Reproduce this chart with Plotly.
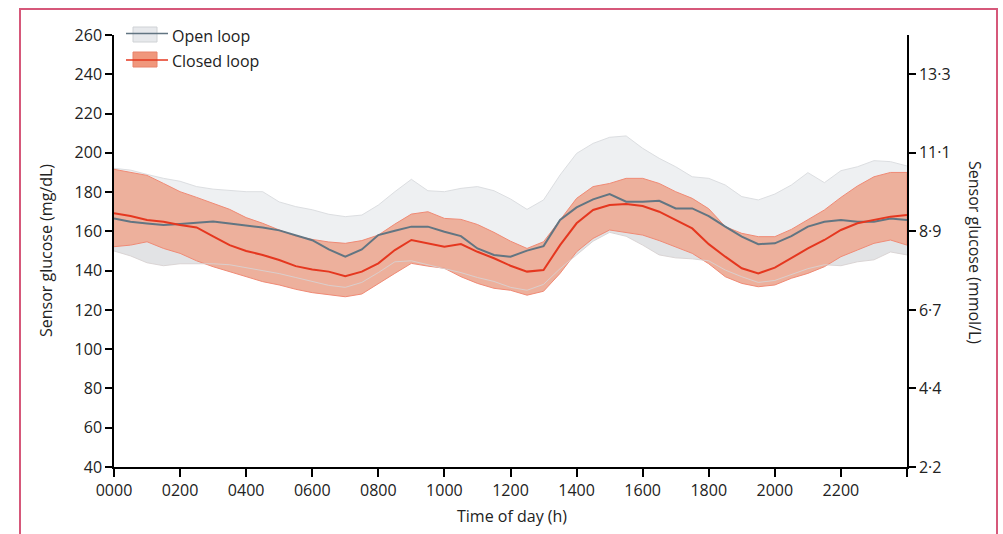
import plotly.graph_objects as go

# ---------------- data ----------------
hours = [0, 0.5, 1, 1.5, 2, 2.5, 3, 3.5, 4, 4.5, 5, 5.5, 6, 6.5, 7, 7.5, 8, 8.5, 9, 9.5,
         10, 10.5, 11, 11.5, 12, 12.5, 13, 13.5, 14, 14.5, 15, 15.5, 16, 16.5, 17, 17.5,
         18, 18.5, 19, 19.5, 20, 20.5, 21, 21.5, 22, 22.5, 23, 23.5, 24]

closed_median = [169.2, 167.8, 165.8, 164.9, 163.2, 162.0, 157.5, 153.0, 150.0, 148.0, 145.4, 142.3,
                 140.6, 139.5, 137.2, 139.5, 143.7, 150.5, 155.6, 153.9, 152.2, 153.5, 149.6, 146.3,
                 142.5, 139.5, 140.3, 153.0, 164.1, 170.9, 173.4, 173.9, 172.9, 170.0, 165.8, 161.5,
                 153.5, 147.1, 141.2, 138.6, 141.5, 146.5, 151.3, 155.6, 160.7, 164.1, 165.8, 167.5, 168.3]

closed_upper = [191.6, 189.9, 188.5, 184.4, 180.2, 177.3, 174.3, 171.2, 167.0, 164.1, 160.7, 157.6,
                155.9, 154.6, 153.9, 155.3, 158.1, 163.7, 168.8, 170.0, 166.6, 166.1, 163.5, 159.5,
                155.0, 151.3, 154.7, 165.8, 176.8, 182.8, 184.4, 187.0, 187.0, 184.4, 180.2, 176.8,
                171.5, 162.4, 159.0, 157.3, 157.3, 161.0, 166.1, 170.9, 177.3, 183.1, 187.8, 190.0, 190.0]

closed_lower = [152.2, 153.0, 154.7, 151.3, 148.8, 145.0, 142.0, 139.5, 136.9, 134.4, 132.7, 130.5,
                128.8, 127.6, 126.7, 128.1, 133.5, 138.6, 143.7, 142.3, 141.2, 136.9, 133.5, 131.0,
                130.0, 127.5, 129.5, 138.6, 149.6, 156.4, 160.7, 159.3, 158.1, 155.3, 152.2, 148.8,
                143.5, 136.9, 133.5, 131.8, 132.7, 136.1, 138.6, 142.0, 147.1, 150.5, 153.9, 155.6, 153.0]

open_median = [166.6, 164.9, 164.0, 163.2, 163.8, 164.5, 165.0, 164.0, 163.0, 162.0, 160.5, 158.0,
               155.5, 150.8, 147.1, 150.8, 158.1, 160.3, 162.4, 162.4, 159.8, 157.6, 151.3, 148.0,
               147.1, 150.2, 152.5, 165.8, 172.2, 176.3, 179.0, 175.1, 175.1, 175.6, 171.7, 171.7,
               167.8, 162.4, 157.3, 153.5, 153.9, 157.6, 162.4, 164.9, 165.8, 164.9, 164.9, 166.6, 165.8]

open_upper = [192.1, 191.2, 189.0, 187.0, 185.5, 182.8, 181.5, 181.0, 180.2, 180.2, 175.0, 172.6,
              171.0, 168.7, 167.5, 168.3, 173.4, 180.2, 186.5, 180.7, 180.2, 181.9, 182.8, 180.7,
              176.5, 171.2, 176.0, 188.7, 199.7, 204.8, 207.9, 208.6, 202.3, 197.2, 192.9, 187.8,
              187.0, 183.6, 177.7, 176.0, 179.0, 183.6, 189.9, 184.8, 190.9, 192.9, 196.0, 195.5, 193.3]

open_lower = [150.0, 147.5, 144.0, 142.5, 143.5, 143.5, 143.5, 143.0, 141.5, 140.0, 138.5, 136.5,
              134.5, 132.5, 131.5, 134.0, 139.0, 144.5, 145.0, 143.0, 141.0, 139.0, 136.5, 134.5,
              131.5, 130.0, 133.0, 141.0, 148.0, 155.0, 159.5, 157.5, 153.0, 148.0, 146.5, 146.0,
              145.0, 140.3, 136.9, 134.0, 135.0, 138.0, 141.0, 143.0, 142.5, 144.5, 145.5, 149.5, 148.0]

x_tickvals = [0, 2, 4, 6, 8, 10, 12, 14, 16, 18, 20, 22, 24]
x_ticktext = ["0000", "0200", "0400", "0600", "0800", "1000", "1200", "1400", "1600",
              "1800", "2000", "2200", ""]
mmol_tickvals = [40, 80, 120, 160, 200, 240]
mmol_ticktext = ["2·2", "4·4", "6·7", "8·9", "11·1", "13·3"]

# ---------------- styling ----------------
FONT = "Open Sans"
TXT = "#222222"
W, H = 1003, 534
L, R, T, B = 114, 96, 35, 67
PW, PH = W - L - R, H - T - B


def px_x(px):
    return (px - L) / PW


def px_y(py):
    return (H - B - py) / PH


def band(upper, lower):
    return hours + hours[::-1], upper + lower[::-1]


fig = go.Figure()

# open loop band: upper half (median->upper) and lower half (lower->median)
bx, by = band(open_upper, open_median)
fig.add_trace(go.Scatter(x=bx, y=by, fill="toself", fillcolor="#eef0f2", mode="lines",
                         line=dict(width=0), hoverinfo="skip", showlegend=False))
bx, by = band(open_median, open_lower)
fig.add_trace(go.Scatter(x=bx, y=by, fill="toself", fillcolor="#e2e3e5", mode="lines",
                         line=dict(width=0), hoverinfo="skip", showlegend=False))
fig.add_trace(go.Scatter(x=hours, y=open_upper, mode="lines",
                         line=dict(color="#dcdee1", width=1), hoverinfo="skip", showlegend=False))

# closed loop band
bx, by = band(closed_upper, closed_lower)
fig.add_trace(go.Scatter(x=bx, y=by, fill="toself", fillcolor="#edb09c", mode="lines",
                         line=dict(color="#f08a75", width=1), hoverinfo="skip", showlegend=False))

# open loop lower edge shows faintly through
fig.add_trace(go.Scatter(x=hours, y=open_lower, mode="lines",
                         line=dict(color="rgba(215,210,210,0.9)", width=1),
                         hoverinfo="skip", showlegend=False))

# medians (closed loop median on the right-hand axis, same scale, so that axis is drawn)
fig.add_trace(go.Scatter(x=hours, y=open_median, mode="lines", name="Open loop",
                         line=dict(color="#627582", width=2), showlegend=False))
fig.add_trace(go.Scatter(x=hours, y=closed_median, mode="lines", name="Closed loop",
                         yaxis="y2",
                         line=dict(color="#e5371f", width=2), showlegend=False))

axis_common = dict(showline=True, linecolor="black", linewidth=1.5, ticks="outside",
                   tickcolor="black", tickwidth=1.5, showgrid=False, zeroline=False,
                   tickfont=dict(family=FONT, size=16, color=TXT))

fig.update_layout(
    width=W, height=H,
    margin=dict(l=L, r=R, t=T, b=B),
    paper_bgcolor="white", plot_bgcolor="white",
    showlegend=False,
    xaxis=dict(range=[0, 24], tickvals=x_tickvals, ticktext=x_ticktext, ticklen=8,
               **axis_common),
    yaxis=dict(range=[40, 260], dtick=20, tick0=40, ticklen=7, **axis_common),
    yaxis2=dict(range=[40, 260], overlaying="y", side="right", anchor="x",
                tickvals=mmol_tickvals, ticktext=mmol_ticktext, ticklen=7, **axis_common),
)

annotations = [
    dict(text="Sensor glucose (mg/dL)", x=px_x(46), y=px_y(251), textangle=-90),
    dict(text="Sensor glucose (mmol/L)", x=px_x(975), y=px_y(252), textangle=90),
    dict(text="Time of day (h)", x=px_x(512), y=px_y(516)),
    dict(text="Open loop", x=px_x(170), y=px_y(36), xanchor="left"),
    dict(text="Closed loop", x=px_x(170), y=px_y(61), xanchor="left"),
]
for a in annotations:
    a.setdefault("xanchor", "center")
    fig.add_annotation(xref="paper", yref="paper", yanchor="middle", showarrow=False,
                       font=dict(family=FONT, size=16, color=TXT), **a)

shapes = [
    # legend: open loop
    dict(type="rect", x0=px_x(133), x1=px_x(157), y0=px_y(42), y1=px_y(27),
         fillcolor="#e7e9ec", line=dict(color="#cfd2d5", width=1)),
    dict(type="line", x0=px_x(126), x1=px_x(168), y0=px_y(33.5), y1=px_y(33.5),
         line=dict(color="#627582", width=1.5)),
    # legend: closed loop
    dict(type="rect", x0=px_x(133), x1=px_x(157), y0=px_y(67), y1=px_y(52),
         fillcolor="#f0977c", line=dict(color="#e8826a", width=1)),
    dict(type="line", x0=px_x(126), x1=px_x(168), y0=px_y(60), y1=px_y(60),
         line=dict(color="#e5371f", width=1.5)),
    # page frame
    dict(type="rect", x0=px_x(20), x1=px_x(997), y0=px_y(560), y1=px_y(9),
         line=dict(color="#d6587a", width=2), fillcolor="rgba(0,0,0,0)"),
]
for s in shapes:
    fig.add_shape(xref="paper", yref="paper", **s)

fig.write_html("out.html",
               config={"displayModeBar": False},
               post_script="document.body.style.margin='0';document.body.style.padding='0';")
